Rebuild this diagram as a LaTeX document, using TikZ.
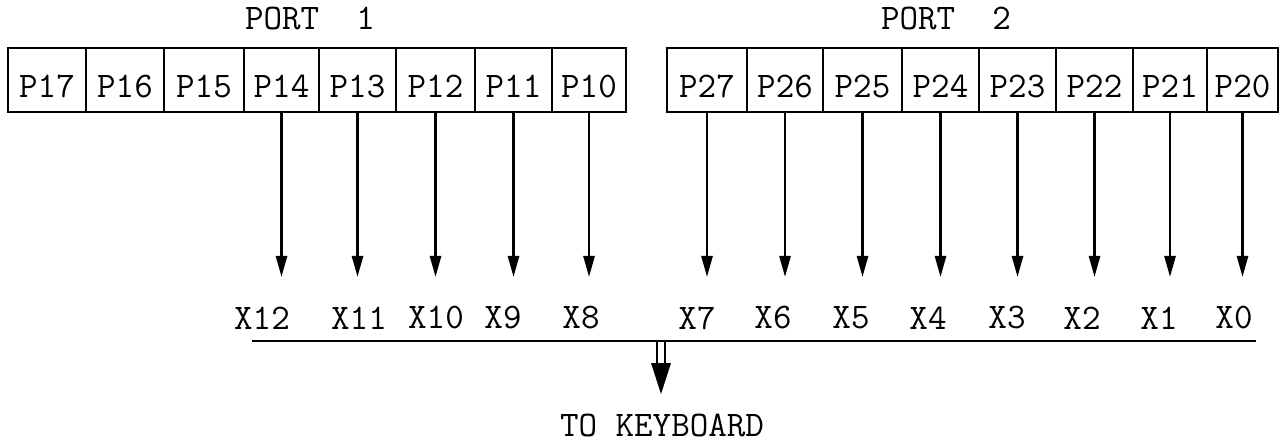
\documentclass[tikz,border=0pt]{standalone}
\usetikzlibrary{arrows.meta}
\begin{document}
\begin{tikzpicture}[x=1pt,y=-1pt,
  lbl/.style={font=\ttfamily\fontsize{36}{42}\selectfont, inner sep=0pt},
  cell/.style={draw, line width=2.6pt, minimum height=64pt, inner sep=0pt,
    font=\ttfamily\fontsize{36}{42}\selectfont, text height=36pt, text depth=0pt},
  sig/.style={line width=2.6pt, -{Triangle[width=11pt,length=21pt]}},
  bus/.style={line width=2.8pt}]
\useasboundingbox (0,0) rectangle (1281,443);
% port cells
\foreach \n/\a/\b in {P17/8/86, P16/86/164, P15/164/244, P14/244/319, P13/319/396, P12/396/475, P11/475/552, P10/552/626,
                      P27/667/747, P26/747/823, P25/823/902, P24/902/979, P23/979/1056, P22/1056/1133, P21/1133/1207, P20/1207/1278}{
  \pgfmathsetmacro{\w}{\b-\a}
  \pgfmathsetmacro{\c}{(\a+\b)/2}
  \node[cell, minimum width=\w pt] (\n) at (\c,80) {\n};
}
\node[lbl] (port1) at (310,19) {PORT\ \ 1};
\node[lbl] (port2) at (946,19) {PORT\ \ 2};
% tip level
\coordinate (tip) at (0,277);
\foreach \n in {P14,P13,P12,P11,P10,P27,P26,P25,P24,P23,P22,P21,P20}{
  \draw[sig] (\n.south) -- (\n.south |- tip);
}
% X labels
\foreach \t/\x in {X12/262, X11/359, X10/436, X9/503, X8/581, X7/697, X6/773, X5/851, X4/928, X3/1007, X2/1082, X1/1159, X0/1234}{
  \node[lbl] (\t) at (\x,318) {\t};
}
% bus
\coordinate (busL) at (252,341);
\coordinate (busR) at (1256,341);
\draw[bus] (busL) -- (busR);
\coordinate (out) at (661,341);
\coordinate (outtip) at (661,394);
\node[lbl] (kbd) at (662,425) {TO KEYBOARD};
% hollow shaft and solid head
\draw[line width=2pt] ([xshift=-4pt]out) -- ++(0,23) -- ++(8,0) -- ([xshift=4pt]out);
\fill ([xshift=-10pt,yshift=31pt]outtip) -- ([xshift=10pt,yshift=31pt]outtip) -- (outtip) -- cycle;
\end{tikzpicture}
\end{document}
